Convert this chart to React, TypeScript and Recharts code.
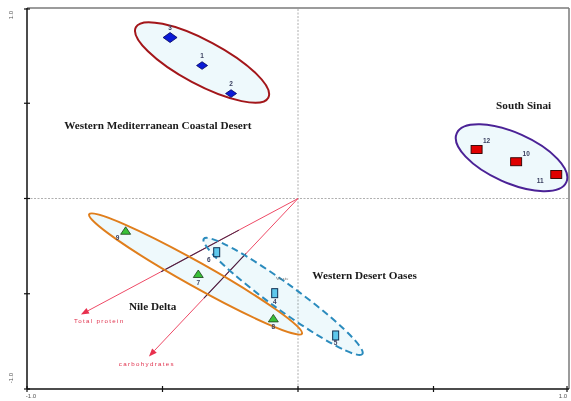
import React from 'react';
import { ScatterChart, Scatter, XAxis, YAxis, ReferenceLine, ReferenceDot } from 'recharts';

// sample groups (PCA scores)
const coastalIds = ['3', '1', '2'];
const coastalX = [-0.472, -0.354, -0.247];
const coastalY = [0.845, 0.698, 0.551];

const sinaiIds = ['12', '10', '11'];
const sinaiX = [0.659, 0.805, 0.953];
const sinaiY = [0.257, 0.193, 0.126];

const deltaIds = ['9', '7', '8'];
const deltaX = [-0.636, -0.368, -0.091];
const deltaY = [-0.172, -0.399, -0.632];

const oasesIds = ['6', '4', '5'];
const oasesX = [-0.3, -0.086, 0.139];
const oasesY = [-0.282, -0.497, -0.719];

// loading vectors
const vectorNames = ['Total protein', 'carbohydrates'];
const vectorX = [-0.801, -0.55];
const vectorY = [-0.609, -0.829];

const axisTicks = [-1, -0.5, 0, 0.5, 1];

const toRows = (ids: string[], xs: number[], ys: number[]) =>
  ids.map((id, i) => ({ id, x: xs[i], y: ys[i] }));

const coastal = toRows(coastalIds, coastalX, coastalY);
const sinai = toRows(sinaiIds, sinaiX, sinaiY);
const delta = toRows(deltaIds, deltaX, deltaY);
const oases = toRows(oasesIds, oasesX, oasesY);

// group ellipses: centre in data units, radii in px, tilt in degrees
const ellipses = [
  { x: -0.354, y: 0.714, rx: 75, ry: 22, rot: 28, stroke: '#a3161a', dash: undefined },
  { x: 0.788, y: 0.214, rx: 60, ry: 25, rot: 24, stroke: '#4b2296', dash: undefined },
  { x: -0.378, y: -0.396, rx: 122, ry: 12, rot: 29.3, stroke: '#e07e1c', dash: undefined },
  { x: -0.055, y: -0.514, rx: 98, ry: 13, rot: 36, stroke: '#2b8bbd', dash: '7 4' },
];

// darker parts of the loading lines
const darkSegs = [
  [{ x: -0.218, y: -0.166 }, { x: -0.505, y: -0.384 }],
  [{ x: -0.192, y: -0.289 }, { x: -0.347, y: -0.523 }],
];

const groupTitles = [
  { text: 'Western Mediterranean Coastal Desert', x: -0.863, y: 0.365 },
  { text: 'South Sinai', x: 0.731, y: 0.472 },
  { text: 'Western Desert Oases', x: 0.053, y: -0.422 },
  { text: 'Nile Delta', x: -0.624, y: -0.585 },
];

const vectorLabels = [
  { x: -0.827, y: -0.656 },
  { x: -0.661, y: -0.877 },
];

const labelShift: Record<string, [number, number]> = {
  '3': [0, -8], '1': [0, -8], '2': [0, -8],
  '12': [10, -7], '10': [10, -6], '11': [-16, 9],
  '9': [-8, 9], '7': [0, 10], '8': [0, 10],
  '6': [-8, 10], '4': [0, 11], '5': [0, 10],
};

const ptLabel = (id: string, cx: number, cy: number) => {
  const [dx, dy] = labelShift[id] || [0, -8];
  return (
    <text x={cx + dx} y={cy + dy} textAnchor='middle' fontSize={6.5} fontWeight='bold'
      fontFamily='Liberation Sans, Arial' fill='#3b4060'>{id}</text>
  );
};

const Diamond = (p: any) => {
  const big = p.payload.id === '3';
  const w = big ? 7 : 5.5;
  const h = big ? 5 : 3.8;
  return (
    <g>
      <polygon points={`${p.cx},${p.cy - h} ${p.cx + w},${p.cy} ${p.cx},${p.cy + h} ${p.cx - w},${p.cy}`}
        fill='#0a1bd6' stroke='#00005a' strokeWidth={0.8} />
      {ptLabel(p.payload.id, p.cx, p.cy)}
    </g>
  );
};

const RedBox = (p: any) => (
  <g>
    <rect x={p.cx - 5.5} y={p.cy - 4} width={11} height={8} fill='#e00000' stroke='#2a0000' strokeWidth={0.9} />
    {ptLabel(p.payload.id, p.cx, p.cy)}
  </g>
);

const Tri = (p: any) => (
  <g>
    <polygon points={`${p.cx},${p.cy - 4.5} ${p.cx + 5},${p.cy + 3} ${p.cx - 5},${p.cy + 3}`}
      fill='#38c038' stroke='#1b3d1b' strokeWidth={0.8} />
    {ptLabel(p.payload.id, p.cx, p.cy)}
  </g>
);

const BlueBox = (p: any) => (
  <g>
    <rect x={p.cx - 3} y={p.cy - 4.5} width={6} height={9} fill='#5ec8ec' stroke='#0f2f52' strokeWidth={1} />
    {ptLabel(p.payload.id, p.cx, p.cy)}
  </g>
);

const Arrow = (p: any) => {
  const { x1, y1, x2, y2 } = p;
  const ang = Math.atan2(y2 - y1, x2 - x1);
  const len = 8;
  const half = 3.2;
  const bx = x2 - len * Math.cos(ang);
  const by = y2 - len * Math.sin(ang);
  const nx = -Math.sin(ang) * half;
  const ny = Math.cos(ang) * half;
  return (
    <g>
      <line x1={x1} y1={y1} x2={bx} y2={by} stroke='#ee4a66' strokeWidth={1} />
      <polygon points={`${x2},${y2} ${bx + nx},${by + ny} ${bx - nx},${by - ny}`} fill='#e8304e' />
    </g>
  );
};

const XTick = (p: any) => {
  const { x, y, payload } = p;
  const v = payload.value;
  const lbl = v === -1 ? '-1.0' : v === 1 ? '1.0' : null;
  return (
    <g>
      <line x1={x} y1={y - 3} x2={x} y2={y + 3} stroke='#111' strokeWidth={1.2} />
      {lbl && (
        <text x={v === -1 ? x + 4 : x - 4} y={y + 8.5} textAnchor='middle' fontSize={6}
          fontFamily='Liberation Sans, Arial' fill='#555'>{lbl}</text>
      )}
    </g>
  );
};

const YTick = (p: any) => {
  const { x, y, payload } = p;
  const v = payload.value;
  const lbl = v === -1 ? '-1.0' : v === 1 ? '1.0' : null;
  const ty = v === 1 ? y + 6 : y - 11;
  return (
    <g>
      <line x1={x - 3} y1={y} x2={x + 3} y2={y} stroke='#111' strokeWidth={1.2} />
      {lbl && (
        <text x={11} y={ty} textAnchor='middle' fontSize={6} fontFamily='Liberation Sans, Arial'
          fill='#555' transform={`rotate(-90 11 ${ty})`} dominantBaseline='middle'>{lbl}</text>
      )}
    </g>
  );
};

export default function App() {
  return (
    <div style={{ position: 'absolute', left: 0, top: 0, width: 571, height: 401, background: '#fff' }}>
      <ScatterChart width={571} height={401} margin={{ top: 8, right: 2, bottom: 0, left: 0 }}>
        <XAxis type='number' dataKey='x' domain={[-1, 1]} ticks={axisTicks} allowDataOverflow
          height={12} tickSize={0} tickMargin={0} axisLine={{ stroke: '#111', strokeWidth: 1.5 }}
          tickLine={false} tick={<XTick />} />
        <YAxis type='number' dataKey='y' domain={[-1, 1]} ticks={axisTicks} allowDataOverflow
          width={27} tickSize={0} tickMargin={0} axisLine={{ stroke: '#111', strokeWidth: 1.5 }}
          tickLine={false} tick={<YTick />} />

        <ReferenceLine y={1} stroke='#7a7a7a' strokeWidth={1.5} ifOverflow='visible' />
        <ReferenceLine x={1} stroke='#7a7a7a' strokeWidth={1.5} ifOverflow='visible' />

        {ellipses.map((e, i) => (
          <ReferenceDot key={'f' + i} x={e.x} y={e.y} r={1} ifOverflow='visible'
            shape={(p: any) => (
              <ellipse cx={p.cx} cy={p.cy} rx={e.rx} ry={e.ry} fill='#eef9fc' stroke='none'
                style={{ mixBlendMode: 'multiply' }}
                transform={`rotate(${e.rot} ${p.cx} ${p.cy})`} />
            )} />
        ))}

        <ReferenceLine x={0} stroke='#9a9a9a' strokeWidth={0.8} strokeDasharray='2 1.5' />
        <ReferenceLine y={0} stroke='#9a9a9a' strokeWidth={0.8} strokeDasharray='2 1.5' />

        {ellipses.map((e, i) => (
          <ReferenceDot key={'s' + i} x={e.x} y={e.y} r={1} ifOverflow='visible'
            shape={(p: any) => (
              <ellipse cx={p.cx} cy={p.cy} rx={e.rx} ry={e.ry} fill='none' stroke={e.stroke}
                strokeWidth={2} strokeDasharray={e.dash}
                transform={`rotate(${e.rot} ${p.cx} ${p.cy})`} />
            )} />
        ))}

        {vectorNames.map((n, i) => (
          <ReferenceLine key={n} segment={[{ x: 0, y: 0 }, { x: vectorX[i], y: vectorY[i] }]}
            ifOverflow='visible' shape={<Arrow />} />
        ))}
        {darkSegs.map((s, i) => (
          <ReferenceLine key={'d' + i} segment={s} stroke='#4a2547' strokeWidth={1.1} ifOverflow='visible' />
        ))}

        {vectorNames.map((n, i) => (
          <ReferenceDot key={'vl' + i} x={vectorLabels[i].x} y={vectorLabels[i].y} r={1} ifOverflow='visible'
            shape={(p: any) => (
              <text x={p.cx} y={p.cy} fontSize={6.2} letterSpacing={1.3} fill='#e0304c'
                fontFamily='Liberation Sans, Arial'>{n}</text>
            )} />
        ))}

        {groupTitles.map((t) => (
          <ReferenceDot key={t.text} x={t.x} y={t.y} r={1} ifOverflow='visible'
            shape={(p: any) => (
              <text x={p.cx} y={p.cy} fontSize={11.2} fontWeight='bold' fill='#1a1a1a'
                fontFamily='Liberation Serif, Times New Roman, serif'>{t.text}</text>
            )} />
        ))}
        <ReferenceDot x={-0.081} y={-0.43} r={1} ifOverflow='visible'
          shape={(p: any) => (
            <text x={p.cx} y={p.cy} fontSize={4.5} letterSpacing={0.4} fill='#666'
              fontFamily='Liberation Serif, serif'>Weste</text>
          )} />

        <Scatter data={coastal} shape={<Diamond />} isAnimationActive={false} />
        <Scatter data={sinai} shape={<RedBox />} isAnimationActive={false} />
        <Scatter data={delta} shape={<Tri />} isAnimationActive={false} />
        <Scatter data={oases} shape={<BlueBox />} isAnimationActive={false} />
      </ScatterChart>
    </div>
  );
}
